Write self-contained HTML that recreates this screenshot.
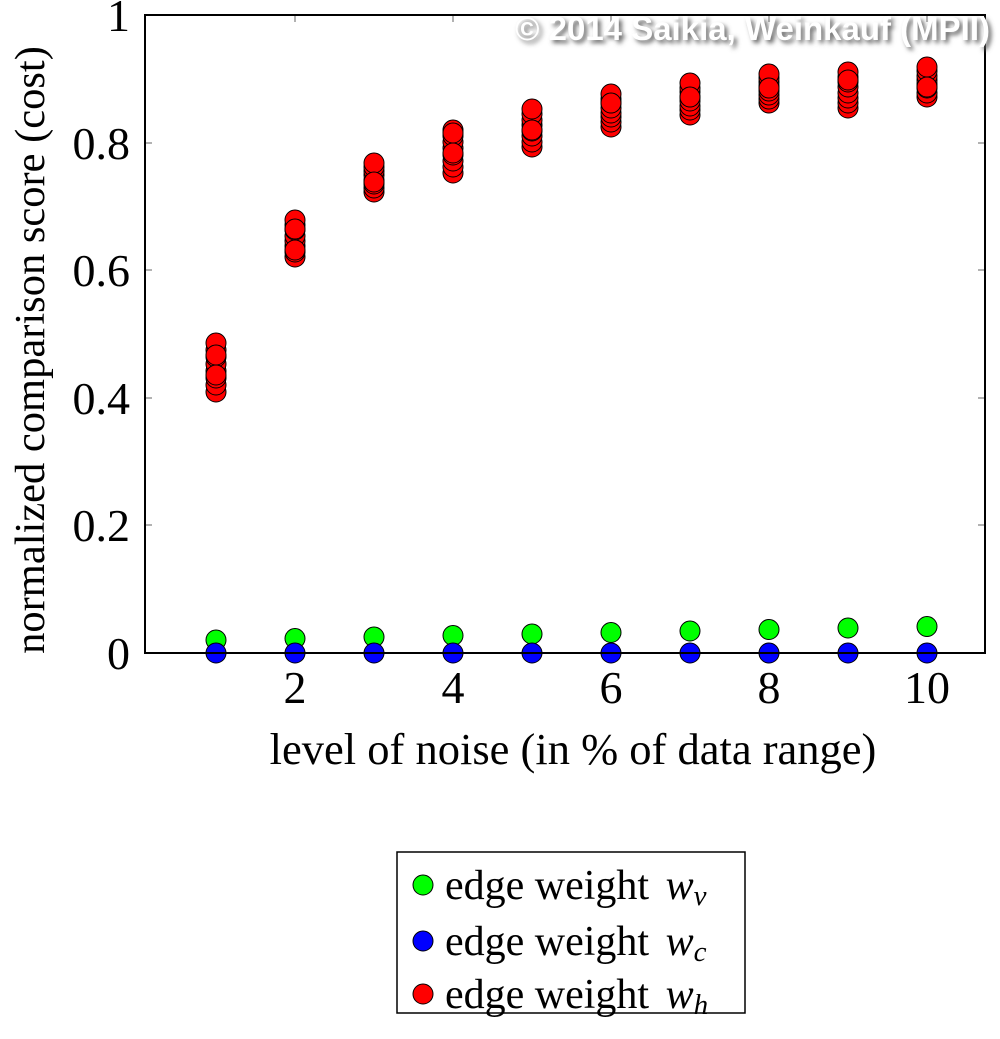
<!DOCTYPE html>
<html><head><meta charset="utf-8"><style>
body{margin:0;background:#fff}
svg{display:block}
</style></head><body>
<svg width="1000" height="1039" xmlns="http://www.w3.org/2000/svg" font-family="Liberation Serif, serif">
<defs><filter id="sh" x="-5%" y="-30%" width="110%" height="160%"><feGaussianBlur stdDeviation="2.5"/></filter></defs>
<g stroke="#999" stroke-width="1.5">
<line x1="145" y1="525" x2="152" y2="525"/><line x1="145" y1="398" x2="152" y2="398"/><line x1="145" y1="270" x2="152" y2="270"/><line x1="145" y1="143" x2="152" y2="143"/>
<line x1="985" y1="525" x2="978" y2="525"/><line x1="985" y1="398" x2="978" y2="398"/><line x1="985" y1="270" x2="978" y2="270"/><line x1="985" y1="143" x2="978" y2="143"/>
<line x1="295" y1="653" x2="295" y2="646"/><line x1="453" y1="653" x2="453" y2="646"/><line x1="611" y1="653" x2="611" y2="646"/><line x1="769" y1="653" x2="769" y2="646"/><line x1="927" y1="653" x2="927" y2="646"/>
<line x1="295" y1="15" x2="295" y2="22"/><line x1="453" y1="15" x2="453" y2="22"/><line x1="611" y1="15" x2="611" y2="22"/><line x1="769" y1="15" x2="769" y2="22"/><line x1="927" y1="15" x2="927" y2="22"/>
</g>
<g stroke="#000" stroke-width="1" fill="#0f0">
<circle cx="216" cy="640" r="10"/><circle cx="295" cy="638.5" r="10"/><circle cx="374" cy="637" r="10"/><circle cx="453" cy="635.5" r="10"/><circle cx="532" cy="634" r="10"/><circle cx="611" cy="632.5" r="10"/><circle cx="690" cy="631" r="10"/><circle cx="769" cy="629.5" r="10"/><circle cx="848" cy="628" r="10"/><circle cx="927" cy="626.5" r="10"/>
</g>
<g stroke="#000" stroke-width="1" fill="#00f">
<circle cx="216" cy="653" r="10"/><circle cx="295" cy="653" r="10"/><circle cx="374" cy="653" r="10"/><circle cx="453" cy="653" r="10"/><circle cx="532" cy="653" r="10"/><circle cx="611" cy="653" r="10"/><circle cx="690" cy="653" r="10"/><circle cx="769" cy="653" r="10"/><circle cx="848" cy="653" r="10"/><circle cx="927" cy="653" r="10"/>
</g>
<g stroke="#000" stroke-width="1" fill="#f00">
<circle cx="216" cy="392" r="10"/><circle cx="216" cy="385" r="10"/><circle cx="216" cy="378" r="10"/><circle cx="216" cy="371" r="10"/><circle cx="216" cy="364" r="10"/><circle cx="216" cy="357" r="10"/><circle cx="216" cy="350" r="10"/><circle cx="216" cy="343" r="10"/><circle cx="216" cy="375" r="10"/><circle cx="216" cy="355" r="10"/>
<circle cx="295" cy="257" r="10"/><circle cx="295" cy="252" r="10"/><circle cx="295" cy="246" r="10"/><circle cx="295" cy="241" r="10"/><circle cx="295" cy="236" r="10"/><circle cx="295" cy="230" r="10"/><circle cx="295" cy="225" r="10"/><circle cx="295" cy="220" r="10"/><circle cx="295" cy="250" r="10"/><circle cx="295" cy="229" r="10"/>
<circle cx="374" cy="192" r="10"/><circle cx="374" cy="188" r="10"/><circle cx="374" cy="184" r="10"/><circle cx="374" cy="180" r="10"/><circle cx="374" cy="175" r="10"/><circle cx="374" cy="171" r="10"/><circle cx="374" cy="167" r="10"/><circle cx="374" cy="163" r="10"/><circle cx="374" cy="182" r="10"/>
<circle cx="453" cy="173" r="10"/><circle cx="453" cy="167" r="10"/><circle cx="453" cy="161" r="10"/><circle cx="453" cy="155" r="10"/><circle cx="453" cy="148" r="10"/><circle cx="453" cy="142" r="10"/><circle cx="453" cy="136" r="10"/><circle cx="453" cy="130" r="10"/><circle cx="453" cy="153" r="10"/><circle cx="453" cy="133" r="10"/>
<circle cx="532" cy="147" r="10"/><circle cx="532" cy="142" r="10"/><circle cx="532" cy="136" r="10"/><circle cx="532" cy="131" r="10"/><circle cx="532" cy="125" r="10"/><circle cx="532" cy="120" r="10"/><circle cx="532" cy="114" r="10"/><circle cx="532" cy="109" r="10"/><circle cx="532" cy="130" r="10"/>
<circle cx="611" cy="127" r="10"/><circle cx="611" cy="122" r="10"/><circle cx="611" cy="117" r="10"/><circle cx="611" cy="113" r="10"/><circle cx="611" cy="108" r="10"/><circle cx="611" cy="103" r="10"/><circle cx="611" cy="99" r="10"/><circle cx="611" cy="94" r="10"/><circle cx="611" cy="103" r="10"/>
<circle cx="690" cy="115" r="10"/><circle cx="690" cy="110" r="10"/><circle cx="690" cy="106" r="10"/><circle cx="690" cy="101" r="10"/><circle cx="690" cy="97" r="10"/><circle cx="690" cy="92" r="10"/><circle cx="690" cy="88" r="10"/><circle cx="690" cy="83" r="10"/><circle cx="690" cy="97" r="10"/>
<circle cx="769" cy="103" r="10"/><circle cx="769" cy="99" r="10"/><circle cx="769" cy="95" r="10"/><circle cx="769" cy="91" r="10"/><circle cx="769" cy="86" r="10"/><circle cx="769" cy="82" r="10"/><circle cx="769" cy="78" r="10"/><circle cx="769" cy="74" r="10"/><circle cx="769" cy="88" r="10"/>
<circle cx="848" cy="108" r="10"/><circle cx="848" cy="103" r="10"/><circle cx="848" cy="98" r="10"/><circle cx="848" cy="93" r="10"/><circle cx="848" cy="87" r="10"/><circle cx="848" cy="82" r="10"/><circle cx="848" cy="77" r="10"/><circle cx="848" cy="72" r="10"/><circle cx="848" cy="80" r="10"/>
<circle cx="927" cy="97" r="10"/><circle cx="927" cy="93" r="10"/><circle cx="927" cy="88" r="10"/><circle cx="927" cy="84" r="10"/><circle cx="927" cy="80" r="10"/><circle cx="927" cy="76" r="10"/><circle cx="927" cy="71" r="10"/><circle cx="927" cy="67" r="10"/><circle cx="927" cy="87" r="10"/>
</g>
<rect x="145" y="15" width="840" height="638" fill="none" stroke="#000" stroke-width="2"/>
<g font-size="46" text-anchor="end">
<text x="130" y="669">0</text><text x="130" y="541">0.2</text><text x="130" y="414">0.4</text><text x="130" y="286">0.6</text><text x="130" y="159">0.8</text><text x="130" y="31">1</text>
</g>
<g font-size="46" text-anchor="middle">
<text x="295" y="703">2</text><text x="453" y="703">4</text><text x="611" y="703">6</text><text x="769" y="703">8</text><text x="927" y="703">10</text>
</g>
<text x="573" y="764" font-size="44.5" text-anchor="middle">level of noise (in % of data range)</text>
<text transform="translate(30,350) rotate(-90)" dy="14" font-size="42.5" text-anchor="middle">normalized comparison score (cost)</text>
<g font-family="Liberation Sans, sans-serif" font-weight="bold" font-size="33" text-anchor="end">
<text x="993" y="43" fill="#666" filter="url(#sh)">© 2014 Saikia, Weinkauf (MPII)</text>
<text x="990" y="40" fill="#fff">© 2014 Saikia, Weinkauf (MPII)</text>
</g>
<rect x="397" y="852" width="348" height="161" fill="#fff" stroke="#000" stroke-width="1.5"/>
<g stroke="#000" stroke-width="1">
<circle cx="423" cy="885" r="10" fill="#0f0"/><circle cx="423" cy="941" r="10" fill="#00f"/><circle cx="423" cy="994" r="10" fill="#f00"/>
</g>
<g font-size="42">
<text x="445" y="899">edge weight <tspan font-style="italic" dx="6">w<tspan font-size="29" dy="6">v</tspan></tspan></text>
<text x="445" y="955">edge weight <tspan font-style="italic" dx="6">w<tspan font-size="29" dy="6">c</tspan></tspan></text>
<text x="445" y="1008">edge weight <tspan font-style="italic" dx="6">w<tspan font-size="29" dy="6">h</tspan></tspan></text>
</g>
</svg>
</body></html>
